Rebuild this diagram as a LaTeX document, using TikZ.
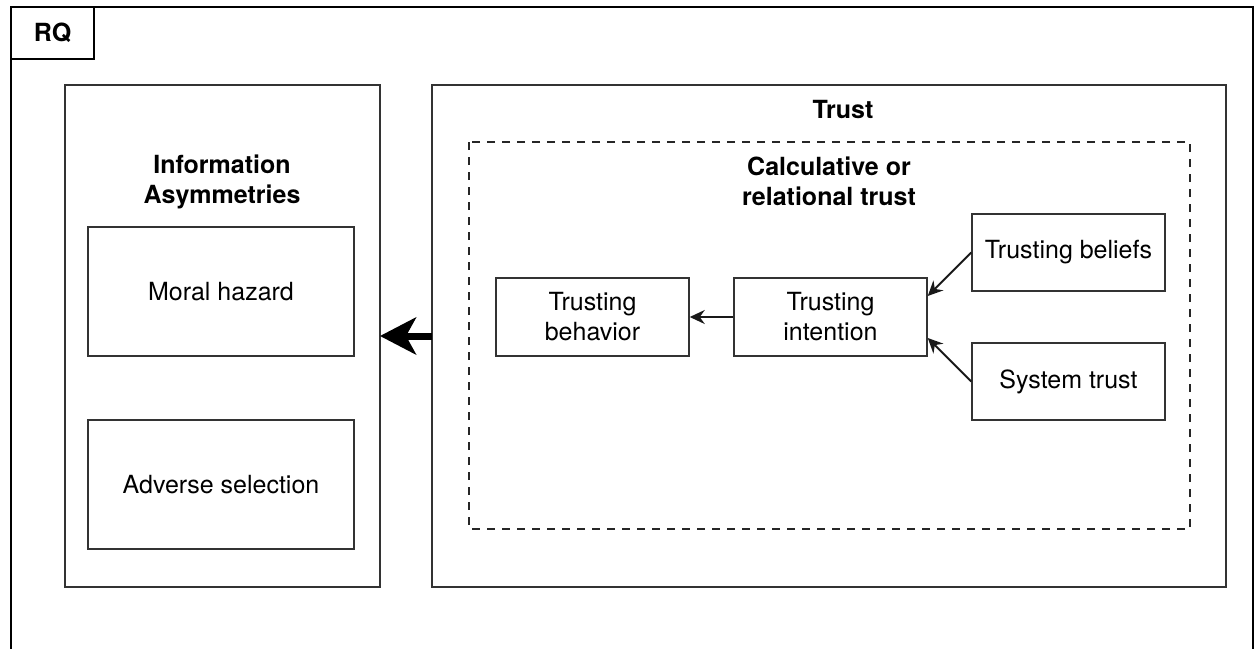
\documentclass[tikz,border=0pt]{standalone}
\usepackage{fontspec}
\setmainfont{TeX Gyre Heros}
\usetikzlibrary{arrows.meta}
\begin{document}
\begin{tikzpicture}[x=1pt,y=-1pt,
  frame/.style={draw=black!80, line width=1.5pt},
  boxtext/.style={font=\fontsize{25}{30}\selectfont, align=center},
  titletext/.style={font=\fontsize{25}{30}\selectfont\bfseries, align=center},
  innerbox/.style={boxtext, draw=black!80, line width=1.5pt, minimum width=193pt, inner sep=0pt},
  link/.style={draw=black!90, line width=2pt, -{Stealth[length=15pt,width=14pt,inset=5pt]}},
  bigarrow/.style={draw=black, line width=7pt, -{Stealth[length=36pt,width=37pt,inset=10pt]}}
]
\useasboundingbox (0,0) rectangle (1255,648);
\begin{scope}
\clip (0,0) rectangle (1255,648);
% outer frame and its tab
\draw[frame, draw=black] (11,7) rectangle (1253,700);
\draw[frame, draw=black] (11,7) rectangle (94,59);
\end{scope}
\node[titletext] (rq) at (52.5,33) {RQ};

% left panel
\draw[frame] (65,85) rectangle (380,587);
\coordinate (infoE) at (380,336);
\node[titletext] (info) at (222,182) {Information\\Asymmetries};
\draw[frame] (88,227) rectangle (354,356);
\node[boxtext] (moral) at (221,292) {Moral hazard};
\draw[frame] (88,420) rectangle (354,549);
\node[boxtext] (adverse) at (221,485) {Adverse selection};

% right panel
\draw[frame] (432,85) rectangle (1226,587);
\coordinate (trustW) at (432,336);
\node[titletext] (trust) at (843,109) {Trust};
\draw[frame, draw=black!85, dash pattern=on 8pt off 7pt, line width=2.4pt] (469,142) rectangle (1190,529);
\node[titletext] (calc) at (829,181) {Calculative or\\relational trust};

% inner boxes
\node[innerbox, minimum height=78pt] (behav) at (592.5,317) {Trusting\\behavior};
\node[innerbox, minimum height=78pt] (intent) at (830.5,317) {Trusting\\intention};
\node[innerbox, minimum height=77pt] (beliefs) at (1068.5,252.5) {Trusting beliefs};
\node[innerbox, minimum height=77pt] (system) at (1068.5,381.5) {System trust};

% connectors
\draw[link] (intent.west) -- (behav.east);
\draw[link] (beliefs.west) -- ([yshift=21pt]intent.east);
\draw[link] (system.west) -- ([yshift=-21pt]intent.east);
\draw[bigarrow] (trustW) -- (infoE);
\end{tikzpicture}
\end{document}
